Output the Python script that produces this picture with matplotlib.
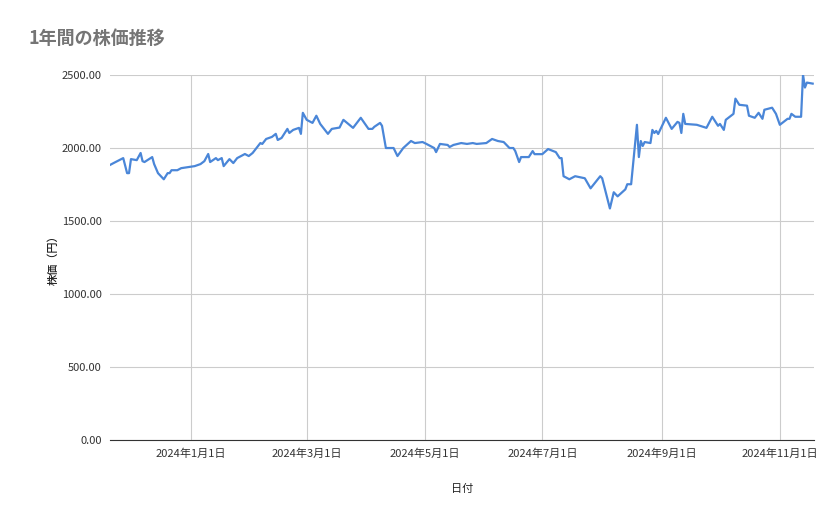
import matplotlib
matplotlib.use("Agg")
import matplotlib.pyplot as plt
import pandas as pd

plt.rcParams['font.family'] = ['Noto Sans CJK JP', 'DejaVu Sans']

# days since 2024-01-01
day_offsets = [-42, -40, -35, -33, -32, -31, -28, -26, -25, -24, -20, -19, -17, -14, -12, -11, -10, -7, -5,
               2, 5, 7, 9, 10, 13, 14, 16, 17, 20, 22, 24, 28, 30, 32, 36, 37, 39, 42, 44, 45, 47, 50, 51, 53,
               56, 57, 58, 60, 63, 65, 67, 71, 73, 77, 79, 84, 88, 92, 94, 95, 98, 99, 101, 105, 107, 110,
               114, 116, 120, 122, 126, 127, 129, 133, 134, 136, 140, 143, 146, 148, 153, 156, 159, 162,
               165, 167, 168, 170, 171, 175, 177, 178, 182, 185, 189, 191, 192, 193, 196, 199, 204, 207,
               212, 213, 217, 219, 221, 225, 226, 228, 231, 232, 233, 234, 235, 238, 239, 240, 241, 242,
               246, 249, 252, 253, 254, 255, 256, 262, 267, 270, 273, 274, 276, 277, 281, 282, 284, 288,
               289, 292, 294, 296, 297, 301, 303, 305, 309, 310, 311, 313, 316, 317, 318, 319, 322]
prices = [1883, 1897, 1931, 1828, 1828, 1924, 1917, 1966, 1910, 1904, 1938, 1890, 1828, 1786, 1828, 1828, 1848, 1848, 1862,
          1876, 1890, 1910, 1959, 1904, 1931, 1917, 1931, 1876, 1924, 1897, 1931, 1959, 1945, 1966, 2034, 2028, 2062, 2076, 2097, 2055, 2069, 2131, 2103, 2124,
          2138, 2097, 2241, 2193, 2172, 2221, 2165, 2097, 2131, 2140, 2193, 2138, 2207, 2131, 2131, 2145, 2172, 2152, 2000, 2000, 1945, 2000,
          2048, 2034, 2041, 2028, 2000, 1972, 2028, 2021, 2007, 2021, 2034, 2028, 2034, 2028, 2034, 2062, 2048, 2041,
          2000, 2000, 1979, 1904, 1938, 1938, 1979, 1958, 1958, 1993, 1972, 1931, 1931, 1807, 1786, 1807, 1793, 1724,
          1807, 1793, 1586, 1697, 1669, 1717, 1752, 1752, 2159, 1938, 2048, 2014, 2041, 2034, 2124, 2103, 2117, 2096,
          2207, 2131, 2179, 2172, 2103, 2234, 2165, 2159, 2138, 2214, 2152, 2165, 2124, 2193, 2234, 2338, 2296, 2290,
          2221, 2207, 2241, 2200, 2262, 2276, 2234, 2159, 2200, 2200, 2234, 2214, 2214, 2503, 2414, 2448, 2441]
tick_dates = ["2024-01-01", "2024-03-01", "2024-05-01", "2024-07-01", "2024-09-01", "2024-11-01"]
tick_labels = ["2024年1月1日", "2024年3月1日", "2024年5月1日", "2024年7月1日", "2024年9月1日", "2024年11月1日"]
y_ticks = [0, 500, 1000, 1500, 2000, 2500]

base = pd.Timestamp("2024-01-01")
dates = [base + pd.Timedelta(days=d) for d in day_offsets]

fig = plt.figure(figsize=(8.39, 5.19), dpi=100)
ax = fig.add_axes([0.131, 0.152, 0.839, 0.7035])
ax.plot(dates, prices, color="#4a86d8", lw=1.6, zorder=3)
ax.set_xlim(base - pd.Timedelta(days=41.9), base + pd.Timedelta(days=322.6))
ax.set_ylim(0, 2500)
ax.set_xticks(pd.to_datetime(tick_dates))
ax.set_xticklabels(tick_labels)
ax.set_yticks(y_ticks)
ax.set_yticklabels([f"{v:.2f}" for v in y_ticks])
ax.grid(True, color="#cccccc", lw=0.8)
for s in ["top", "right", "left"]:
    ax.spines[s].set_visible(False)
ax.spines["bottom"].set_color("#333333")
ax.tick_params(length=0, labelsize=8, colors="#333333", pad=6)
ax.set_xlabel("日付", fontsize=8, color="#222222", labelpad=18)
ax.set_ylabel("株価（円）", fontsize=8, color="#222222", labelpad=2, fontweight="medium")
fig.text(28/839, 1 - 38/519, "1年間の株価推移", fontsize=13, color="#757575", va="center", ha="left", fontweight="bold")
fig.savefig("out.png", dpi=100)
